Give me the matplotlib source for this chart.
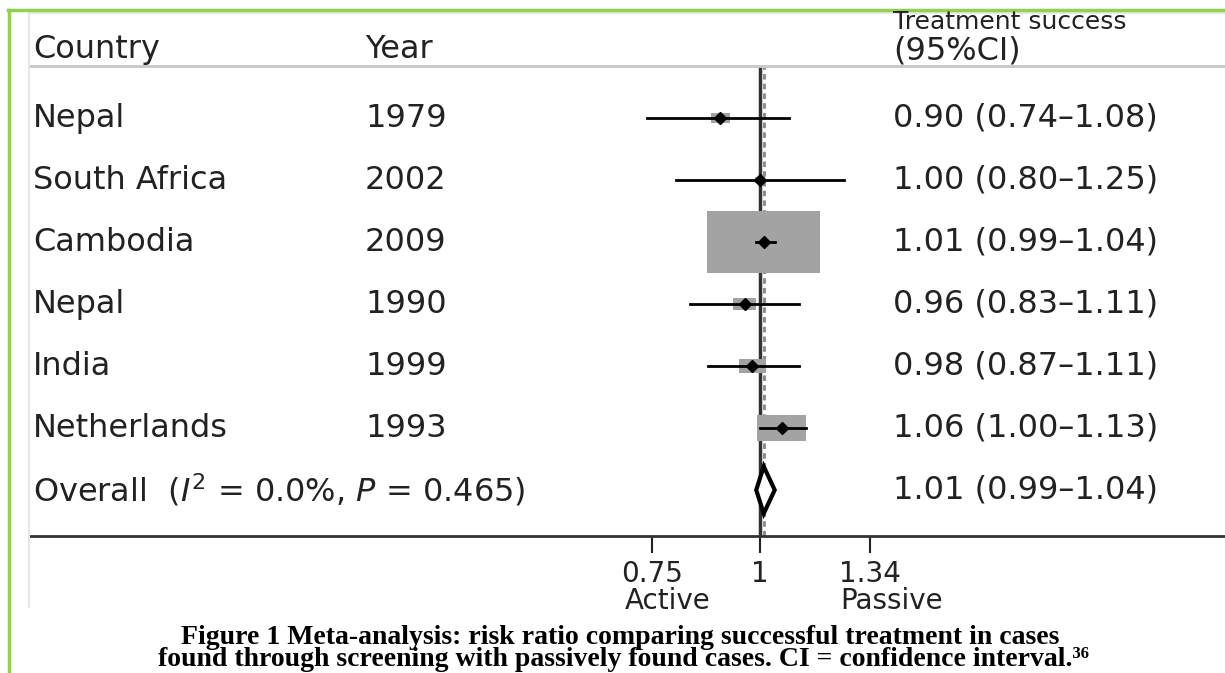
import numpy as np
import matplotlib
matplotlib.use('Agg')
import matplotlib.pyplot as plt
from matplotlib.lines import Line2D
from matplotlib.patches import Rectangle, Polygon
from matplotlib.ticker import NullLocator
import matplotlib.transforms as mtransforms

# Study data (risk ratio of treatment success, active vs passive case finding)
countries = ['Nepal', 'South Africa', 'Cambodia', 'Nepal', 'India', 'Netherlands']
years = ['1979', '2002', '2009', '1990', '1999', '1993']
rr = [0.90, 1.00, 1.01, 0.96, 0.98, 1.06]
ci_low = [0.74, 0.80, 0.99, 0.83, 0.87, 1.00]
ci_high = [1.08, 1.25, 1.04, 1.11, 1.11, 1.13]
weights = [2.2, 0.6, 76.0, 3.2, 4.4, 14.3]   # % weight

overall_rr, overall_low, overall_high = 1.01, 0.99, 1.04
overall_label = r'Overall  ($I^2$ = 0.0%, $P$ = 0.465)'

tick_vals = [0.75, 1, 1.34]
tick_labels = ['0.75', '1', '1.34']

plt.rcParams['font.family'] = ['DejaVu Sans']
plt.rcParams['mathtext.fontset'] = 'custom'
plt.rcParams['mathtext.rm'] = 'DejaVu Sans'
plt.rcParams['mathtext.it'] = 'DejaVu Sans:italic'

W, H = 1225, 673
fig = plt.figure(figsize=(W / 100, H / 100), dpi=100)


def fx(px):
    return px / W


def fy(py):
    return 1 - py / H


# forest plot axes: x=1 sits at 760px, 375px per log unit
ax = fig.add_axes([fx(30), fy(536), fx(1225) - fx(30), fy(66) - fy(536)])
ax.set_xscale('log')
ax.set_xlim(np.exp((30 - 760) / 375), np.exp((1225 - 760) / 375))
ax.set_ylim(6.742, -0.839)

for s in ['top', 'left', 'right']:
    ax.spines[s].set_visible(False)
ax.spines['bottom'].set_linewidth(2)
ax.spines['bottom'].set_color('#333333')
ax.set_yticks([])
ax.set_xticks(tick_vals)
ax.set_xticklabels(tick_labels)
ax.xaxis.set_minor_locator(NullLocator())
ax.tick_params(axis='x', length=12, width=1.5, labelsize=20, pad=5, colors='#222222')

# reference lines
ax.axvline(1, color='#333333', lw=2.5, zorder=1)
ax.axvline(overall_rr, color='#888888', lw=2, ls=(0, (2, 1.5)), zorder=1)

n = len(countries)
for i in range(n):
    bw = 0.0345 * np.sqrt(weights[i])
    bh = 0.113 * np.sqrt(weights[i])
    x0 = rr[i] * np.exp(-bw / 2)
    ax.add_patch(Rectangle((x0, i - bh / 2), rr[i] * np.exp(bw / 2) - x0, bh,
                           facecolor='#a3a3a3', edgecolor='none', zorder=2))
    ax.plot([ci_low[i], ci_high[i]], [i, i], color='black', lw=2, zorder=3)
    ax.plot(rr[i], i, marker='D', color='black', markersize=6, zorder=4)

# overall diamond
yo = n
dh = 0.38
ax.add_patch(Polygon([(overall_low, yo), (overall_rr, yo - dh),
                      (overall_high, yo), (overall_rr, yo + dh)],
                     closed=True, facecolor='white', edgecolor='black',
                     lw=3, zorder=4))

# text columns
trans = mtransforms.blended_transform_factory(fig.transFigure, ax.transData)
fs = 23
tc = '#222222'
for i in range(n):
    ax.text(fx(33), i, countries[i], transform=trans, fontsize=fs, va='center', color=tc)
    ax.text(fx(365), i, years[i], transform=trans, fontsize=fs, va='center', color=tc)
    ax.text(fx(893), i, f'{rr[i]:.2f} ({ci_low[i]:.2f}\u2013{ci_high[i]:.2f})',
            transform=trans, fontsize=fs, va='center', color=tc)
ax.text(fx(33), yo, overall_label, transform=trans, fontsize=fs, va='center', color=tc)
ax.text(fx(893), yo, f'{overall_rr:.2f} ({overall_low:.2f}\u2013{overall_high:.2f})',
        transform=trans, fontsize=fs, va='center', color=tc)

# headers
fig.text(fx(33), fy(58), 'Country', fontsize=fs, va='baseline', color=tc)
fig.text(fx(365), fy(58), 'Year', fontsize=fs, va='baseline', color=tc)
fig.text(fx(893), fy(29), 'Treatment success', fontsize=18, va='baseline', color=tc)
fig.text(fx(893), fy(60), '(95%CI)', fontsize=fs, va='baseline', color=tc)
fig.add_artist(Line2D([fx(30), 1], [fy(66), fy(66)], color='#c8c8c8', lw=2))

# faint edge of the embedded chart image
fig.add_artist(Line2D([fx(29), fx(29)], [fy(13), fy(607)], color='#e8e8e8', lw=1.5))
fig.add_artist(Line2D([fx(29), 1], [fy(13), fy(13)], color='#e8e8e8', lw=1.5))

# direction labels under the axis
tb = mtransforms.blended_transform_factory(ax.transData, fig.transFigure)
ax.text(0.782, fy(601), 'Active', transform=tb, fontsize=20, ha='center', va='center', color=tc)
ax.text(1.422, fy(601), 'Passive', transform=tb, fontsize=20, ha='center', va='center', color=tc)

# caption
cap_font = ['Liberation Serif', 'DejaVu Serif']
fig.text(fx(620), fy(637), 'Figure 1 Meta-analysis: risk ratio comparing successful treatment in cases',
         family=cap_font, weight='bold', fontsize=20, ha='center', va='center')
fig.text(fx(624), fy(660), 'found through screening with passively found cases. CI = confidence interval.\u00b3\u2076',
         family=cap_font, weight='bold', fontsize=20, ha='center', va='center')

# green frame
fig.add_artist(Line2D([fx(8), 1], [fy(10), fy(10)], color='#92d050', lw=2.5))
fig.add_artist(Line2D([fx(9), fx(9)], [fy(10), 0], color='#92d050', lw=2.5))

fig.savefig('out.png', dpi=100)
